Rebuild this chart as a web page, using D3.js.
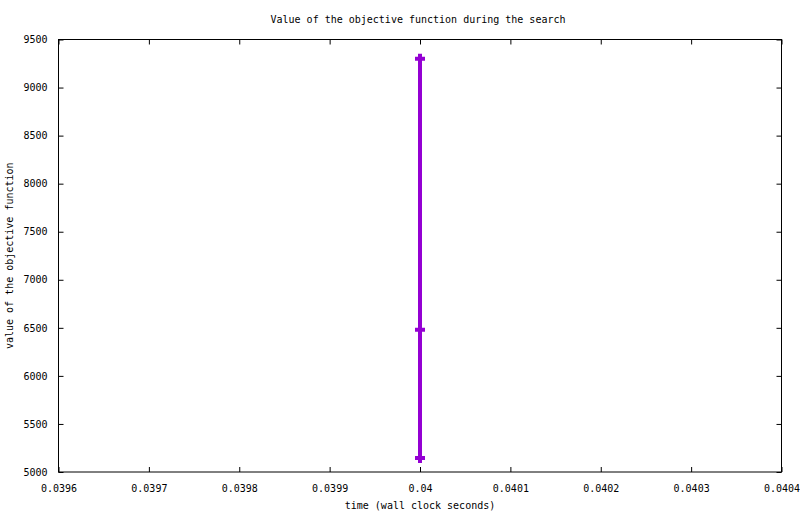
<!DOCTYPE html>
<html>
<head>
<meta charset="utf-8">
<script src="https://cdn.jsdelivr.net/npm/d3@7"></script>
<style>
  body { margin: 0; background: #fff; }
  text { font-family: "DejaVu Sans Mono", monospace; font-size: 10px; fill: #000; }
</style>
</head>
<body>
<div id="chart"></div>
<script>
// values
var times = [0.04, 0.04, 0.04]
var values = [9300, 6480, 5145]
var xTicks = [0.0396, 0.0397, 0.0398, 0.0399, 0.04, 0.0401, 0.0402, 0.0403, 0.0404]
var yTicks = [5000, 5500, 6000, 6500, 7000, 7500, 8000, 8500, 9000, 9500]

var W = 800, H = 514
var margin = {top: 39.5, right: 18.5, bottom: 42, left: 58.5}
var width = W - margin.left - margin.right,
    height = H - margin.top - margin.bottom

var x = d3.scaleLinear().domain([0.0396, 0.0404]).range([0, width])
var y = d3.scaleLinear().domain([5000, 9500]).range([height, 0])

var svg = d3.select("#chart").append("svg")
  .attr("width", W)
  .attr("height", H)

var g = svg.append("g")
  .attr("transform", "translate(" + margin.left + "," + margin.top + ")")

// ticks inward, mirrored
var tickLen = 5
g.append("g")
  .attr("transform", "translate(0," + height + ")")
  .call(d3.axisBottom(x).tickValues(xTicks).tickSize(-tickLen).tickPadding(tickLen + 8)
    .tickFormat(function(d){ return +d.toFixed(4) + "" }))
g.append("g")
  .call(d3.axisTop(x).tickValues(xTicks).tickSize(-tickLen).tickFormat(""))
g.append("g")
  .call(d3.axisLeft(y).tickValues(yTicks).tickSize(-tickLen).tickPadding(tickLen + 6)
    .tickFormat(d3.format("d")))
g.append("g")
  .attr("transform", "translate(" + width + ",0)")
  .call(d3.axisRight(y).tickValues(yTicks).tickSize(-tickLen).tickFormat(""))

g.selectAll(".domain").remove()
g.selectAll(".tick line").attr("stroke", "#000").attr("stroke-width", 1)
g.selectAll(".tick text").style("font-family", "DejaVu Sans Mono, monospace").style("font-size", "10px")

g.append("rect")
  .attr("width", width)
  .attr("height", height)
  .attr("fill", "none")
  .attr("stroke", "#000")
  .attr("stroke-width", 1)

var pts = times.map(function(t, i){ return {t: t, v: values[i]} })
var colour = "#9400d3"

g.append("path")
  .datum(pts)
  .attr("fill", "none")
  .attr("stroke", colour)
  .attr("stroke-width", 4)
  .attr("d", d3.line().x(function(d){ return x(d.t) }).y(function(d){ return y(d.v) }))

// plus markers
var m = 5
g.selectAll(".pt")
  .data(pts)
  .enter().append("path")
  .attr("class", "pt")
  .attr("fill", "none")
  .attr("stroke", colour)
  .attr("stroke-width", 4)
  .attr("d", function(d){
    var cx = x(d.t), cy = y(d.v)
    return "M" + (cx - m) + "," + cy + "H" + (cx + m) + "M" + cx + "," + (cy - m) + "V" + (cy + m)
  })

svg.append("text")
  .attr("x", W / 2 + 18)
  .attr("y", 23)
  .attr("text-anchor", "middle")
  .text("Value of the objective function during the search")

svg.append("text")
  .attr("x", margin.left + width / 2)
  .attr("y", 509)
  .attr("text-anchor", "middle")
  .text("time (wall clock seconds)")

svg.append("text")
  .attr("transform", "translate(13," + (margin.top + height / 2) + ") rotate(-90)")
  .attr("text-anchor", "middle")
  .text("value of the objective function")
</script>
</body>
</html>
